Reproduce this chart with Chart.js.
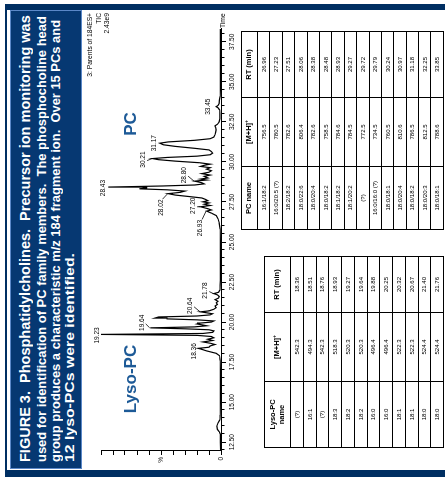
<!DOCTYPE html>
<html><head><meta charset="utf-8">
<script src="https://cdn.jsdelivr.net/npm/chart.js@4.4.1/dist/chart.umd.min.js"></script>
<style>
html,body{margin:0;padding:0;background:#fff}
body{width:445px;height:484px;overflow:hidden;position:relative;font-family:"Liberation Sans",Arial,sans-serif}
#sheet{position:absolute;left:0;top:0;width:484px;height:445px;transform-origin:0 0;transform:translate(0,484px) rotate(-90deg);background:#fff;overflow:hidden}
.band{position:absolute;background:#002f62}
#caption{position:absolute;left:15px;top:10px;width:459px;height:72px;box-sizing:border-box;background:#063872;border:1px solid #5b88c8}
.cap{position:absolute;left:6px;color:#fff;font-weight:bold;white-space:nowrap;line-height:1;transform-origin:0 50%}
#chartBox{position:absolute;left:0;top:80px;width:484px;height:170px}
table{position:absolute;border-collapse:collapse;table-layout:fixed;color:#000;font-family:"Liberation Sans",Arial,sans-serif}
td,th{border:1px solid #000;padding:0;text-align:center;vertical-align:middle;overflow:hidden;white-space:nowrap}
th{font-weight:bold;font-size:7.5px;line-height:1.15}
td{font-size:6px;line-height:1}
sup{font-size:5px;vertical-align:3px;line-height:0}
</style></head>
<body>
<div id="sheet">
  <div class="band" style="left:7px;top:5px;width:7px;height:440px"></div>
  <div class="band" style="left:474px;top:5px;width:6px;height:440px"></div>
  <div class="band" style="left:7px;top:5px;width:473px;height:2px"></div>
  <div id="caption">
    <div class="cap" id="c1" style="top:6px;font-size:15px" data-w="447">FIGURE 3.&nbsp; Phosphatidylcholines.&nbsp; Precursor ion monitoring was</div>
    <div class="cap" id="c2" style="top:24px;font-size:13px" data-w="446">used for identification of PC family members.&nbsp; The phosphocholine head</div>
    <div class="cap" id="c3" style="top:38px;font-size:13px" data-w="442">group produces a characteristic m/z 184 fragment ion.&nbsp; Over 15 PCs and</div>
    <div class="cap" id="c4" style="top:52px;font-size:13px" data-w="209">12 lyso-PCs were identified.</div>
  </div>
  <div id="chartBox"><canvas id="chrom" width="484" height="170"></canvas></div>
  <table id="pcTable" style="left:254px;top:241px;width:198px"></table>
  <table id="lysoTable" style="left:36px;top:264px;width:191px"></table>
</div>
<script>
// Total-ion chromatogram, parents of m/z 184 (retention time in min, intensity in %)
const traceTime = [
  11.95, 12.5, 13.0, 13.15, 13.3, 13.5, 13.7, 13.9, 14.2, 15.0, 16.0, 17.0, 17.6, 17.9,
  18.05, 18.2, 18.3, 18.36, 18.43, 18.51, 18.6, 18.68, 18.76, 18.85, 18.93, 19.02, 19.1, 19.17, 19.23, 19.29, 19.36,
  19.45, 19.52, 19.58, 19.64, 19.7, 19.77, 19.83, 19.88, 19.94, 20.0, 20.07, 20.14, 20.2, 20.25, 20.32, 20.38,
  20.45, 20.52, 20.58, 20.64, 20.7, 20.8, 20.9, 21.0, 21.1, 21.2, 21.3, 21.4, 21.5, 21.6, 21.7, 21.78, 21.86, 22.0,
  22.3, 22.6, 23.0, 24.0, 25.0, 25.8, 26.2, 26.45, 26.65, 26.8,
  26.93, 27.0, 27.08, 27.2, 27.28, 27.36, 27.44, 27.51, 27.58, 27.66, 27.75, 27.85, 27.93,
  28.02, 28.1, 28.18, 28.26, 28.32, 28.38, 28.43, 28.5, 28.56, 28.63, 28.7, 28.8, 28.87,
  28.93, 29.0, 29.1, 29.18, 29.27, 29.36, 29.45, 29.55, 29.64, 29.72, 29.79, 29.86, 29.95,
  30.05, 30.14, 30.21, 30.28, 30.36, 30.45, 30.55, 30.65, 30.75, 30.85, 30.97, 31.07, 31.17,
  31.25, 31.35, 31.45, 31.55, 31.7, 31.85, 32.0, 32.15, 32.25, 32.35, 32.5, 32.7,
  33.0, 33.25, 33.38, 33.45, 33.53, 33.65, 33.85, 34.1, 34.5, 35.5, 36.5, 37.5, 38.3
];
const traceIntensity = [
  0.4, 0.5, 0.6, 1.5, 3.0, 3.5, 2.5, 1.0, 0.7, 0.6, 0.5, 0.6, 0.7, 1.2,
  4, 12, 16, 19, 10, 9, 5, 9, 15, 7, 11, 6, 8, 20, 100, 15, 7,
  6, 10, 30, 59, 22, 12, 16, 20, 17, 8, 6, 20, 45, 55, 52, 20,
  9, 7, 12, 17, 10, 6, 4, 5, 3, 4, 2.5, 5, 2, 1.5, 3, 6, 2, 1,
  0.8, 0.6, 0.5, 0.5, 0.6, 0.8, 1.5, 2.5, 4, 8,
  12, 8, 11, 17, 9, 14, 10, 15, 11, 13, 16, 28, 38,
  44, 34, 30, 45, 68, 62, 94, 48, 22, 14, 16, 22, 12,
  17, 11, 14, 9, 16, 10, 8, 12, 9, 17, 14, 9, 18,
  38, 52, 57, 45, 20, 9, 7, 8, 10, 22, 38, 48, 51,
  44, 22, 9, 6, 5, 4.5, 4, 4.5, 5, 3, 1.5, 1,
  0.9, 1.2, 2.5, 4, 2.5, 1.5, 1.3, 0.8, 0.6, 0.5, 0.5, 0.5, 0.5
];
// Labelled peaks (retention times printed above the trace)
const peakTimes = [18.36, 19.23, 19.64, 20.64, 21.78, 26.93, 27.20, 28.02, 28.43, 28.80, 30.21, 31.17, 33.45];
// Axis ticks
const timeTicks = [12.5, 15.0, 17.5, 20.0, 22.5, 25.0, 27.5, 30.0, 32.5, 35.0, 37.5];
const intensityTicks = [0, 10, 20, 30, 40, 50, 60, 70, 80, 90, 100];

// Lyso-PC species
const lysoName = ['(?)', '16:1', '(?)', '18:3', '18:2', '18:2', '16:0', '16:0', '18:1', '18:1', '18:0', '18:0'];
const lysoMH = [542.3, 494.3, 542.3, 518.3, 520.3, 520.3, 496.4, 496.4, 522.3, 522.3, 524.4, 524.4];
const lysoRT = [18.36, 18.51, 18.76, 18.93, 19.27, 19.64, 19.88, 20.25, 20.32, 20.67, 21.40, 21.76];

// PC species
const pcName = ['16:1/18:2', '16:0/20:5 (?)', '18:2/18:2', '18:0/22:6', '18:0/20:4', '18:0/18:2', '18:1/18:2',
  '18:1/20:2', '(?)', '16:0/16:0 (?)', '18:0/18:1', '18:0/20:4', '18:0/18:2', '18:0/20:3', '18:0/18:1'];
const pcMH = [756.5, 780.5, 782.6, 806.4, 782.6, 758.5, 784.6, 784.5, 772.5, 734.5, 760.5, 810.6, 786.5, 812.5, 788.6];
const pcRT = [26.96, 27.23, 27.51, 28.06, 28.38, 28.48, 28.93, 29.27, 29.72, 29.79, 30.24, 30.97, 31.18, 32.25, 33.85];

// caption lines are stretched to their column width
document.querySelectorAll('.cap').forEach(el => {
  const w = el.getBoundingClientRect();
  const actual = el.offsetWidth;
  el.style.transform = 'scaleX(' + (Number(el.dataset.w) / actual) + ')';
});

function buildTable(id, head, cols, widths, headH, rowH) {
  const t = document.getElementById(id);
  let html = '<colgroup>' + widths.map(w => '<col style="width:' + w + 'px">').join('') + '</colgroup>';
  html += '<tr style="height:' + headH + 'px">' + head.map(h => '<th>' + h + '</th>').join('') + '</tr>';
  for (let i = 0; i < cols[0].length; i++) {
    html += '<tr style="height:' + rowH + 'px">' + cols.map(c => '<td>' + c[i] + '</td>').join('') + '</tr>';
  }
  t.innerHTML = html;
}
buildTable('pcTable', ['PC name', '[M+H]<sup>+</sup>', 'RT (min)'],
  [pcName, pcMH.map(v => v.toFixed(1)), pcRT.map(v => v.toFixed(2))], [63, 69, 66], 16, 12.4);
buildTable('lysoTable', ['Lyso-PC<br>name', '[M+H]<sup>+</sup>', 'RT (min)'],
  [lysoName, lysoMH.map(v => v.toFixed(1)), lysoRT.map(v => v.toFixed(2))], [66, 69, 56], 26, 12.75);

const FONT = '"Liberation Sans", Arial, sans-serif';
// label placement around each peak: dx along the time axis, lift above the apex, leader line
const labelStyle = {
  18.36: {dx: -3, lift: 1},
  19.23: {dx: -1, lift: 1},
  19.64: {dx: 5, lift: 5, leader: 'bottom'},
  20.64: {dx: 6, lift: 7, leader: 'bottom'},
  21.78: {dx: 3, lift: 5, leader: 'bottom'},
  26.93: {dx: -17, lift: 3, leader: 'end'},
  27.20: {dx: 1, lift: 4, leader: 'bottom'},
  28.02: {dx: -14, lift: 4, leader: 'end'},
  28.43: {dx: -1, lift: 2},
  28.80: {dx: 6, lift: 7, leader: 'bottom'},
  30.21: {dx: -1, lift: 6, leader: 'bottom'},
  31.17: {dx: 0, lift: 2},
  33.45: {dx: 0, lift: 5}
};

const annotations = {
  id: 'annotations',
  afterDraw(chart) {
    const {ctx, scales: {x, y}} = chart;
    ctx.save();
    ctx.strokeStyle = '#000';
    ctx.fillStyle = '#000';
    ctx.lineWidth = 1;
    // minor time ticks every 0.5 min
    const y0 = Math.round(y.getPixelForValue(0)) + 0.5;
    for (let k = 24; k <= 76; k++) {
      const t = k / 2;
      if (timeTicks.includes(t)) continue;
      const px = Math.round(x.getPixelForValue(t)) + 0.5;
      ctx.beginPath(); ctx.moveTo(px, y0); ctx.lineTo(px, y0 + 3); ctx.stroke();
    }
    // peak retention-time labels
    ctx.font = '6.5px ' + FONT;
    ctx.textAlign = 'center';
    ctx.textBaseline = 'bottom';
    ctx.lineWidth = 0.8;
    peakTimes.forEach(t => {
      const i = traceTime.indexOf(t);
      const px = x.getPixelForValue(t);
      const py = y.getPixelForValue(traceIntensity[i]);
      const s = labelStyle[t] || {dx: 0, lift: 2};
      const lx = px + s.dx, ly = py - s.lift;
      const txt = t.toFixed(2);
      ctx.fillText(txt, lx, ly);
      if (s.leader) {
        const w = ctx.measureText(txt).width;
        ctx.beginPath();
        if (s.leader === 'end') ctx.moveTo(lx + w / 2 + 0.5, ly - 1.5);
        else ctx.moveTo(lx - 1, ly + 0.5);
        ctx.lineTo(px, py - 0.5);
        ctx.stroke();
      }
    });
    // trace header
    ctx.font = '6.7px ' + FONT;
    ctx.textAlign = 'right';
    ctx.textBaseline = 'middle';
    ctx.fillText('3: Parents of 184ES+', 471, 10);
    ctx.fillText('TIC', 471, 19);
    ctx.fillText('2.43e9', 471, 27);
    ctx.textAlign = 'left';
    ctx.fillText('Time', x.right + 1, y0 + 2);
    // class labels
    ctx.font = 'bold 17px ' + FONT;
    ctx.fillStyle = '#1d5a97';
    ctx.textAlign = 'center';
    ctx.textBaseline = 'alphabetic';
    ctx.fillText('Lyso-PC', 105, 56);
    ctx.fillText('PC', 360, 56);
    ctx.restore();
  }
};

new Chart(document.getElementById('chrom'), {
  type: 'line',
  data: {
    datasets: [{
      data: traceTime.map((t, i) => ({x: t, y: traceIntensity[i]})),
      borderColor: '#000',
      borderWidth: 1.2,
      pointRadius: 0,
      tension: 0,
      fill: false
    }]
  },
  options: {
    responsive: false,
    animation: false,
    devicePixelRatio: 1,
    layout: {padding: {left: 0, right: 29, top: 21, bottom: 0}},
    plugins: {legend: {display: false}, tooltip: {enabled: false}},
    scales: {
      x: {
        type: 'linear', min: 11.95, max: 38.3,
        afterBuildTicks: s => { s.ticks = timeTicks.map(v => ({value: v})); },
        afterFit: s => { s.height = 29; },
        grid: {drawOnChartArea: false, tickLength: 5, color: '#000', tickColor: '#000', tickWidth: 1},
        border: {display: true, color: '#000', width: 1},
        ticks: {callback: v => Number(v).toFixed(2), font: {size: 6.5, family: FONT}, color: '#000',
                maxRotation: 0, autoSkip: false, padding: 2}
      },
      y: {
        min: 0, max: 100,
        afterBuildTicks: s => { s.ticks = intensityTicks.map(v => ({value: v})); },
        afterFit: s => { s.width = 33; },
        grid: {drawOnChartArea: false, tickLength: 4, color: '#000', tickColor: '#000', tickWidth: 1},
        border: {display: true, color: '#000', width: 1},
        ticks: {callback: v => (v === 0 ? '0' : (v === 50 ? '%' : '')), font: {size: 6.5, family: FONT},
                color: '#000', padding: 2, autoSkip: false}
      }
    }
  },
  plugins: [annotations]
});
</script>
</body></html>
